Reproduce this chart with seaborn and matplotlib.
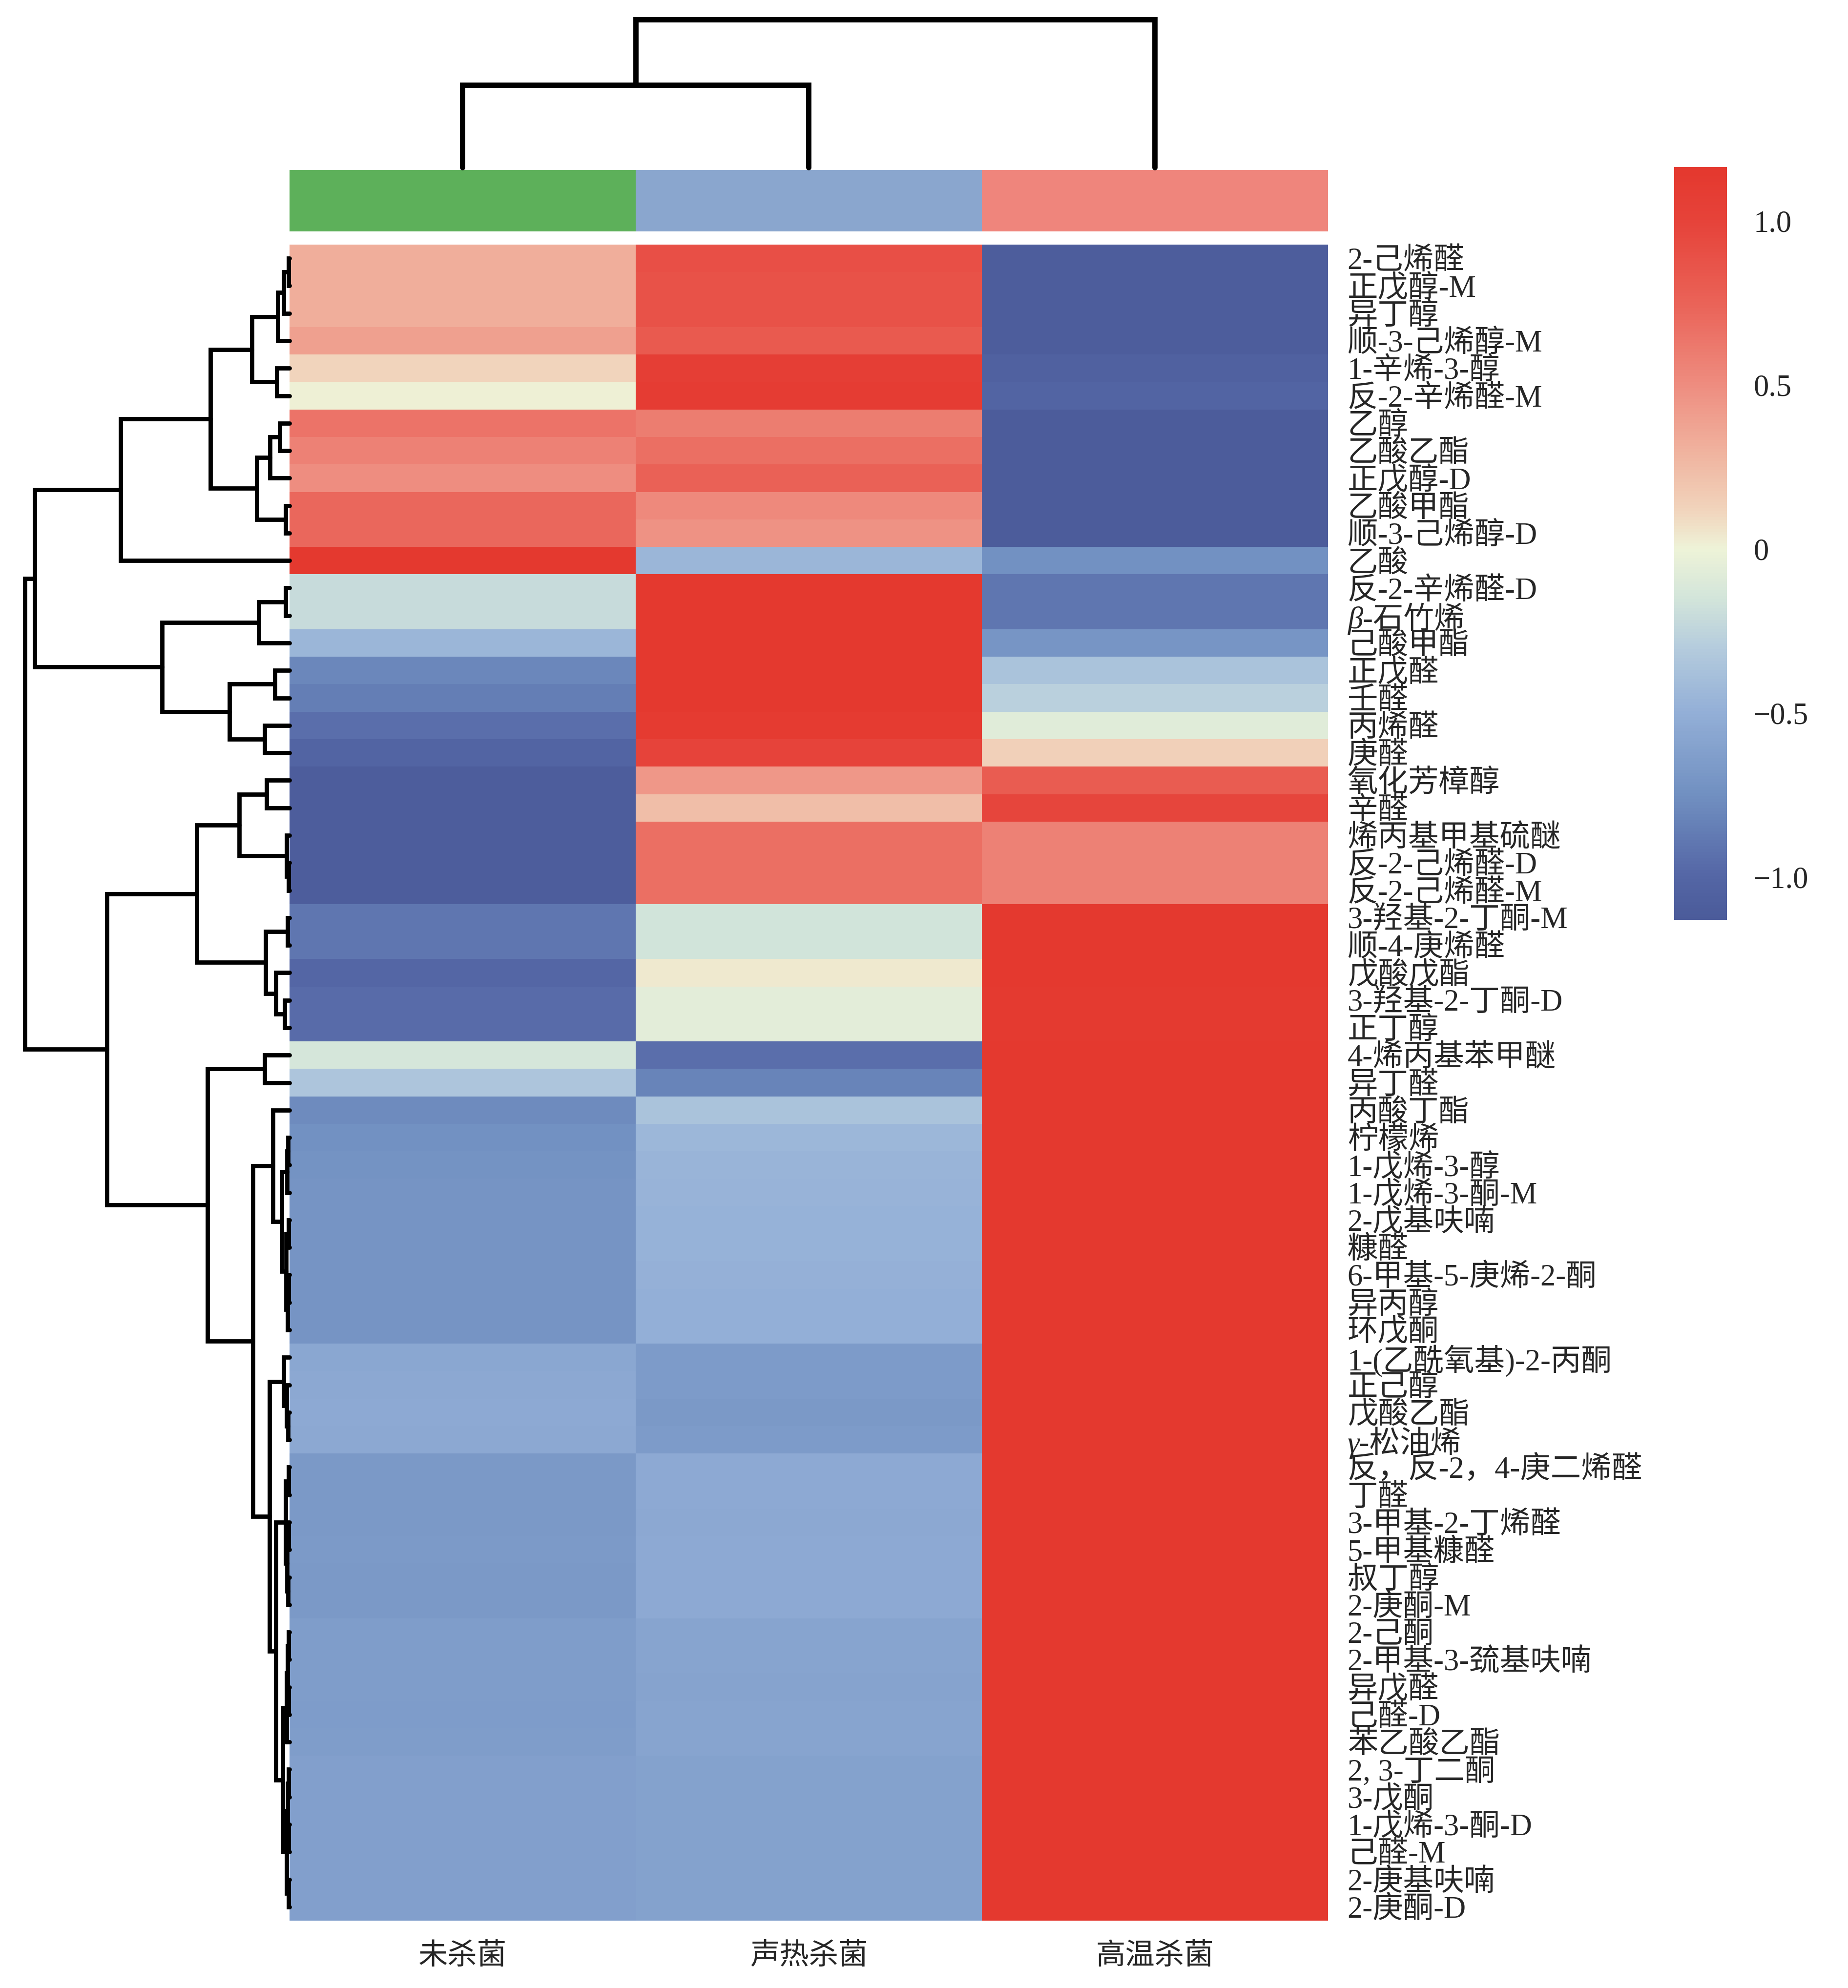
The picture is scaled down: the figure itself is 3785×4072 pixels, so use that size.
import numpy as np
import pandas as pd
import matplotlib
matplotlib.use("Agg")
import matplotlib.pyplot as plt
import seaborn as sns
from matplotlib.colors import LinearSegmentedColormap, ListedColormap

# compounds, top to bottom as in the clustered heatmap
compounds = [
    "2-己烯醛", "正戊醇-M", "异丁醇", "顺-3-己烯醇-M", "1-辛烯-3-醇", "反-2-辛烯醛-M",
    "乙醇", "乙酸乙酯", "正戊醇-D", "乙酸甲酯", "顺-3-己烯醇-D", "乙酸",
    "反-2-辛烯醛-D", "β-石竹烯", "己酸甲酯", "正戊醛", "壬醛", "丙烯醛", "庚醛",
    "氧化芳樟醇", "辛醛", "烯丙基甲基硫醚", "反-2-己烯醛-D", "反-2-己烯醛-M",
    "3-羟基-2-丁酮-M", "顺-4-庚烯醛", "戊酸戊酯", "3-羟基-2-丁酮-D", "正丁醇",
    "4-烯丙基苯甲醚", "异丁醛", "丙酸丁酯", "柠檬烯", "1-戊烯-3-醇", "1-戊烯-3-酮-M",
    "2-戊基呋喃", "糠醛", "6-甲基-5-庚烯-2-酮", "异丙醇", "环戊酮",
    "1-(乙酰氧基)-2-丙酮", "正己醇", "戊酸乙酯", "γ-松油烯", "反，反-2，4-庚二烯醛",
    "丁醛", "3-甲基-2-丁烯醛", "5-甲基糠醛", "叔丁醇", "2-庚酮-M", "2-己酮",
    "2-甲基-3-巯基呋喃", "异戊醛", "己醛-D", "苯乙酸乙酯", "2, 3-丁二酮", "3-戊酮",
    "1-戊烯-3-酮-D", "己醛-M", "2-庚基呋喃", "2-庚酮-D",
]
groups = ["未杀菌", "声热杀菌", "高温杀菌"]
group_colors = ["#5db05a", "#8aa6ce", "#ef857c"]

# row-scaled values
untreated = [
    0.32, 0.32, 0.32, 0.40, 0.12, 0.01, 0.65, 0.57, 0.50, 0.72, 0.72, 1.15,
    -0.21, -0.21, -0.45, -0.80, -0.86, -0.95, -1.02, -1.10, -1.10, -1.10, -1.10, -1.10,
    -0.90, -0.90, -1.00, -0.96, -0.96, -0.14, -0.35, -0.78,
    -0.74, -0.72, -0.71, -0.71, -0.71, -0.71, -0.71, -0.71,
    -0.56, -0.55, -0.54, -0.55,
    -0.68, -0.68, -0.68, -0.67, -0.68, -0.68,
    -0.64, -0.64, -0.64, -0.65, -0.64,
    -0.62, -0.62, -0.62, -0.62, -0.62, -0.62,
]
ultrasonic = [
    0.90, 0.88, 0.88, 0.82, 1.07, 1.10, 0.60, 0.68, 0.77, 0.52, 0.47, -0.45,
    1.14, 1.14, 1.14, 1.14, 1.14, 1.12, 1.00, 0.44, 0.24, 0.68, 0.68, 0.68,
    -0.16, -0.16, 0.04, -0.06, -0.06, -0.95, -0.82, -0.36,
    -0.44, -0.46, -0.47, -0.48, -0.48, -0.49, -0.50, -0.50,
    -0.66, -0.66, -0.68, -0.66,
    -0.54, -0.54, -0.55, -0.54, -0.54, -0.54,
    -0.59, -0.59, -0.60, -0.59, -0.59,
    -0.61, -0.61, -0.61, -0.61, -0.61, -0.61,
]
high_temp = [
    -1.10, -1.10, -1.10, -1.10, -1.05, -1.02, -1.12, -1.12, -1.12, -1.12, -1.12, -0.74,
    -0.90, -0.90, -0.70, -0.36, -0.27, -0.08, 0.14, 0.80, 0.98, 0.57, 0.57, 0.57,
    1.14, 1.14, 1.14, 1.13, 1.13, 1.14, 1.14, 1.14,
    1.15, 1.15, 1.15, 1.15, 1.15, 1.15, 1.15, 1.15,
    1.15, 1.15, 1.15, 1.15,
    1.15, 1.15, 1.15, 1.15, 1.15, 1.15,
    1.15, 1.15, 1.15, 1.15, 1.15,
    1.15, 1.15, 1.15, 1.15, 1.15, 1.15,
]

# row tree: (node, left, right, merge height)
row_merges = [
    ("a01", 0, 1, 2), ("a012", "a01", 2, 12), ("a0123", "a012", 3, 24),
    ("a45", 4, 5, 26), ("a0_5", "a0123", "a45", 77),
    ("a67", 6, 7, 20), ("a678", "a67", 8, 40), ("a910", 9, 10, 8),
    ("a6_10", "a678", "a910", 67), ("a0_10", "a0_5", "a6_10", 162),
    ("a0_11", "a0_10", 11, 346),
    ("c1213", 12, 13, 8), ("c12_14", "c1213", 14, 63),
    ("c1516", 15, 16, 30), ("c1718", 17, 18, 51), ("c15_18", "c1516", "c1718", 123),
    ("c12_18", "c12_14", "c15_18", 261),
    ("x0_18", "a0_11", "c12_18", 522),
    ("d1920", 19, 20, 47), ("d2223", 22, 23, 2), ("d21_23", 21, "d2223", 6),
    ("d19_23", "d1920", "d21_23", 103),
    ("e2425", 24, 25, 4), ("e2728", 27, 28, 10), ("e26_28", 26, "e2728", 28),
    ("e24_28", "e2425", "e26_28", 49),
    ("w19_28", "d19_23", "e24_28", 190),
    ("f2930", 29, 30, 51),
    ("g3233", 32, 33, 3), ("g32_34", "g3233", 34, 5),
    ("g3536", 35, 36, 2), ("g3738", 37, 38, 2), ("g37_39", "g3738", 39, 4),
    ("g35_39", "g3536", "g37_39", 7), ("g32_39", "g32_34", "g35_39", 16),
    ("u31_39", 31, "g32_39", 34),
    ("g4243", 42, 43, 3), ("g41_43", 41, "g4243", 6), ("g40_43", 40, "g41_43", 12),
    ("g4445", 44, 45, 2), ("g4647", 46, 47, 2), ("g4849", 48, 49, 3),
    ("g46_49", "g4647", "g4849", 5), ("g44_49", "g4445", "g46_49", 8),
    ("g5051", 50, 51, 2), ("g5253", 52, 53, 2), ("g50_53", "g5051", "g5253", 4),
    ("g50_54", "g50_53", 54, 6),
    ("g5556", 55, 56, 2), ("g5758", 57, 58, 2), ("g5960", 59, 60, 2),
    ("g55_58", "g5556", "g5758", 4), ("g55_60", "g55_58", "g5960", 6),
    ("g50_60", "g50_54", "g55_60", 14),
    ("q44_60", "g44_49", "g50_60", 28),
    ("u40_60", "g40_43", "q44_60", 41),
    ("u31_60", "u31_39", "u40_60", 75),
    ("v29_60", "f2930", "u31_60", 168),
    ("y19_60", "w19_28", "v29_60", 374),
    ("root", "x0_18", "y19_60", 542),
]
col_merges = [("m01", 0, 1, 169), ("root", "m01", 2, 303)]

VMIN, VMAX = -1.13, 1.165
cmap_vals = [-1.13, -1.0, -0.75, -0.5, -0.3, -0.15, 0.0, 0.12, 0.3, 0.5, 0.75, 1.0, 1.165]
cmap_cols = ["#4b5b9a", "#5466a5", "#7190c1", "#93afd7", "#b5ccdd", "#d3e5da", "#eef3d8",
             "#f1d4bc", "#f0b29e", "#ee8d80", "#ea6358", "#e6433a", "#e4382e"]
cmap = LinearSegmentedColormap.from_list(
    "heat", [((v - VMIN) / (VMAX - VMIN), c) for v, c in zip(cmap_vals, cmap_cols)])


def draw_tree(ax, merges, n, vertical, lw):
    pos = {i: i + 0.5 for i in range(n)}
    hgt = {i: 0.0 for i in range(n)}
    for name, a, b, h in merges:
        p = [pos[a], pos[a], pos[b], pos[b]]
        d = [hgt[a], h, h, hgt[b]]
        if vertical:
            ax.plot(p, d, color="black", lw=lw, clip_on=False, solid_joinstyle="miter")
        else:
            ax.plot(d, p, color="black", lw=lw, clip_on=False, solid_joinstyle="miter")
        pos[name] = (pos[a] + pos[b]) / 2
        hgt[name] = h
    ax.axis("off")


sns.set_style("white")
plt.rcParams["font.family"] = ["Liberation Serif", "Noto Sans CJK SC"]

W, H = 3785, 4072
fig = plt.figure(figsize=(W / 300, H / 300), dpi=300)

ax_heat = fig.add_axes([593 / W, 1 - 3934 / H, 2127 / W, 3433 / H])
ax_ccol = fig.add_axes([593 / W, 1 - 474 / H, 2127 / W, 126 / H])
ax_cden = fig.add_axes([593 / W, 1 - 343 / H, 2127 / W, 303 / H])
ax_rden = fig.add_axes([51 / W, 1 - 3934 / H, 542 / W, 3433 / H])
ax_cbar = fig.add_axes([3429 / W, 1 - 1884 / H, 108 / W, 1542 / H])

data = pd.DataFrame({groups[0]: untreated, groups[1]: ultrasonic, groups[2]: high_temp},
                    index=compounds)

sns.heatmap(data, cmap=cmap, vmin=VMIN, vmax=VMAX, ax=ax_heat, cbar_ax=ax_cbar,
            xticklabels=groups, yticklabels=compounds)
ax_heat.yaxis.tick_right()
ax_heat.tick_params(axis="y", length=0, pad=9.5, labelsize=15, labelrotation=0)
ax_heat.tick_params(axis="x", length=0, pad=11, labelsize=14.5, labelrotation=0)
for lab in ax_heat.get_yticklabels():
    lab.set_horizontalalignment("left")
    if lab.get_text()[0] in "βγ":
        lab.set_fontstyle("italic")
ax_heat.set_xlabel("")
ax_heat.set_ylabel("")

# group colour strip
sns.heatmap(pd.DataFrame([[0, 1, 2]], columns=groups), cmap=ListedColormap(group_colors),
            vmin=-0.5, vmax=2.5, cbar=False, ax=ax_ccol, xticklabels=False, yticklabels=False)

# dendrograms
draw_tree(ax_cden, col_merges, 3, True, 2.6)
ax_cden.set_xlim(0, 3)
ax_cden.set_ylim(0, 303)
draw_tree(ax_rden, row_merges, len(compounds), False, 2.1)
ax_rden.set_ylim(len(compounds), 0)
ax_rden.set_xlim(542, 0)

cbar = ax_heat.collections[0].colorbar
cbar.set_ticks([-1.0, -0.5, 0, 0.5, 1.0])
cbar.set_ticklabels(["\u22121.0", "\u22120.5", "0", "0.5", "1.0"])
cbar.ax.tick_params(length=0, pad=13, labelsize=15)
cbar.outline.set_visible(False)

fig.savefig("out.png", dpi=300)
